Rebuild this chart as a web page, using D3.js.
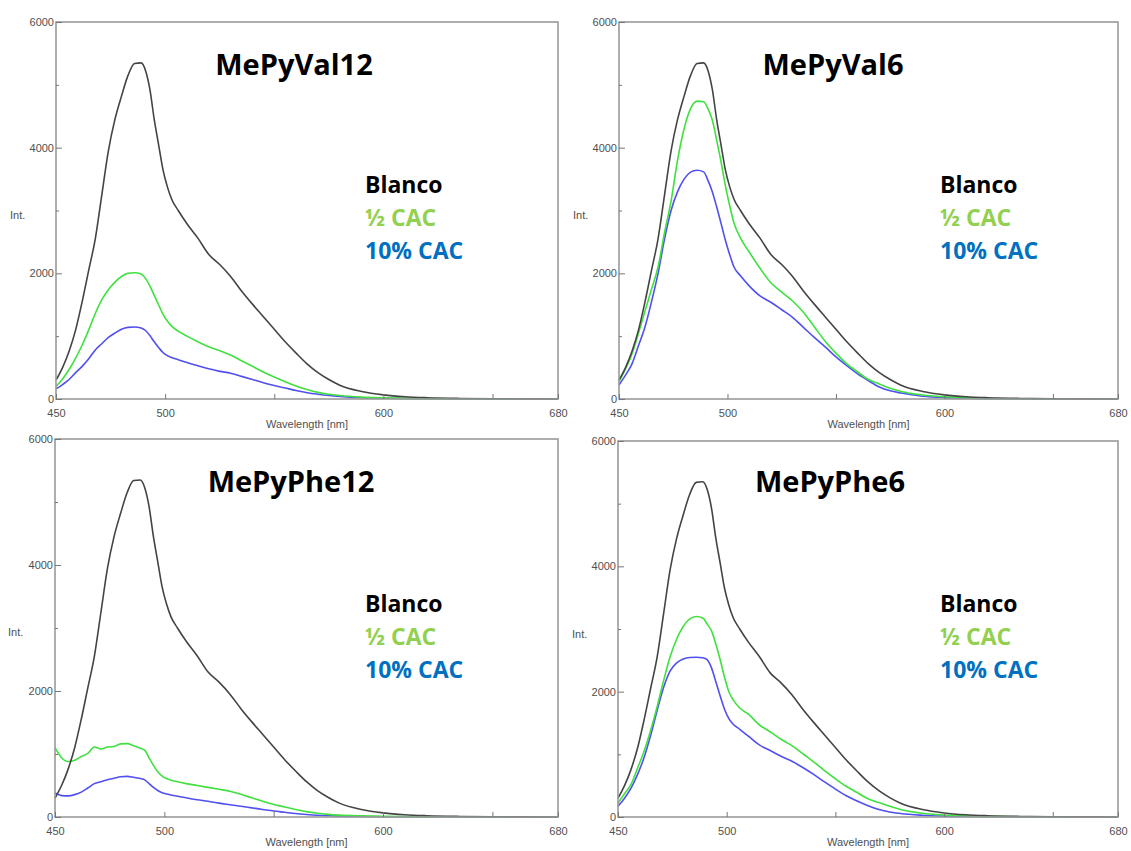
<!DOCTYPE html>
<html>
<head>
<meta charset="utf-8">
<script src="https://cdn.jsdelivr.net/npm/d3@7"></script>
<style>
  html, body { margin: 0; padding: 0; background: #fff; }
  svg { display: block; }
  .tick text { font-family: "Liberation Sans", Arial, sans-serif; font-size: 11px; fill: #505050; }
  .axis-label { font-family: "Liberation Sans", Arial, sans-serif; font-size: 11px; fill: #505050; }
  .title { font-family: "Open Sans", sans-serif; font-weight: bold; font-size: 29px; fill: #000; }
  .legend { font-family: "Open Sans", sans-serif; font-weight: bold; font-size: 23px; }
</style>
</head>
<body>
<svg id="chart" width="1131" height="851"></svg>
<script>
// emission spectra, four samples, each with blank / half CAC / 10% CAC

let wavelength = [450, 453, 456, 459, 462, 465, 468, 471, 474, 477, 480, 483, 486, 489, 491, 493,
  495, 497, 499, 501, 503, 506, 510, 515, 520, 525, 530, 535, 540, 545, 550, 555, 560, 565,
  570, 575, 580, 590, 600, 610, 620, 635, 650, 665, 680];

// same blank in all four panels
let blanco = [300, 500, 760, 1100, 1550, 2050, 2550, 3250, 3950, 4450, 4820, 5150, 5340, 5350, 5230, 4930,
  4450, 4050, 3650, 3380, 3180, 3000, 2790, 2560, 2300, 2140, 1950, 1720, 1510, 1310, 1110, 910, 730, 560,
  420, 310, 220, 120, 65, 35, 20, 9, 4, 2, 1];

let val12Half = [200, 320, 470, 650, 860, 1100, 1360, 1580, 1740, 1860, 1950, 2000, 2010, 1990, 1920, 1800,
  1650, 1500, 1350, 1240, 1160, 1080, 1000, 910, 830, 770, 700, 610, 520, 430, 350, 275, 205, 150,
  105, 75, 55, 30, 18, 10, 6, 3, 2, 1, 1];
let val12Ten = [160, 230, 310, 420, 520, 640, 780, 880, 980, 1050, 1110, 1140, 1145, 1130, 1090, 1010,
  910, 820, 740, 690, 660, 625, 580, 530, 480, 440, 410, 360, 310, 260, 215, 175, 135, 100,
  75, 55, 40, 20, 12, 7, 4, 2, 1, 1, 0];

let val6Half = [276, 480, 720, 1050, 1400, 1750, 2100, 2650, 3150, 3800, 4300, 4620, 4740, 4730, 4620, 4440,
  4120, 3780, 3400, 3080, 2800, 2560, 2340, 2080, 1850, 1700, 1560, 1380, 1150, 920, 730, 560, 430, 310,
  240, 170, 120, 64, 35, 18, 9, 4, 2, 1, 1];
let val6Ten = [223, 380, 560, 850, 1150, 1550, 2000, 2550, 3000, 3300, 3500, 3610, 3640, 3615, 3480, 3300,
  3060, 2800, 2530, 2300, 2100, 1960, 1800, 1640, 1540, 1420, 1300, 1140, 980, 830, 670, 530, 400, 290,
  190, 130, 95, 45, 22, 11, 6, 3, 1, 1, 0];

let phe12Half = [1100, 940, 880, 900, 960, 1010, 1110, 1080, 1110, 1120, 1160, 1165, 1130, 1090, 1060, 940,
  820, 720, 650, 610, 585, 560, 530, 500, 470, 440, 410, 360, 305, 250, 200, 160, 120, 85,
  60, 42, 30, 18, 11, 7, 4, 2, 1, 1, 0];
let phe12Ten = [380, 340, 335, 355, 395, 460, 530, 560, 590, 615, 640, 645, 630, 610, 590, 530,
  470, 420, 385, 365, 350, 330, 305, 275, 250, 220, 195, 170, 145, 120, 95, 75, 55, 40,
  28, 20, 14, 8, 5, 3, 2, 1, 0, 0, 0];

let phe6Half = [223, 370, 520, 780, 1050, 1380, 1760, 2180, 2560, 2840, 3040, 3160, 3200, 3175, 3080, 2970,
  2760, 2510, 2230, 2000, 1870, 1740, 1640, 1470, 1360, 1240, 1140, 1010, 880, 740, 610, 490, 390, 290,
  230, 170, 120, 60, 32, 16, 9, 4, 2, 1, 1];
let phe6Ten = [170, 300, 460, 680, 950, 1300, 1700, 2070, 2330, 2460, 2520, 2545, 2550, 2540, 2510, 2380,
  2160, 1930, 1720, 1570, 1480, 1400, 1290, 1150, 1060, 970, 890, 790, 680, 560, 445, 340, 255, 180,
  120, 80, 55, 28, 14, 7, 4, 2, 1, 0, 0];

let panelNames = ["MePyVal12", "MePyVal6", "MePyPhe12", "MePyPhe6"];
let halfSeries = [val12Half, val6Half, phe12Half, phe6Half];
let tenSeries = [val12Ten, val6Ten, phe12Ten, phe6Ten];

let legendLabels = ["Blanco", "\u00BD CAC", "10% CAC"];
let legendColors = ["#000000", "#92d050", "#0070c0"];
let lineColors = ["#444444", "#3fe03f", "#5050f0"];

let xTicks = [450, 500, 550, 600, 650, 680];
let xLabelled = [450, 500, 600, 680];
let yTicks = [0, 1000, 2000, 3000, 4000, 5000, 6000];
let yLabelled = [0, 2000, 4000, 6000];

// panel boxes (left, top, right, bottom) and where the title/legend go
let boxes = [
  {l: 56, t: 22, r: 558, b: 399, titleX: 294, titleY: 75, legX: 365, legY: 193, intX: 10, intY: 219},
  {l: 619, t: 22, r: 1118, b: 399, titleX: 833, titleY: 75, legX: 940, legY: 193, intX: 573, intY: 219},
  {l: 55, t: 439, r: 558, b: 817, titleX: 291, titleY: 492, legX: 365, legY: 612, intX: 8, intY: 636},
  {l: 618, t: 441, r: 1118, b: 817, titleX: 830, titleY: 492, legX: 940, legY: 612, intX: 572, intY: 638}
];

let svg = d3.select("#chart");

function drawPanel(i) {
  let b = boxes[i];
  let x = d3.scaleLinear().domain([450, 680]).range([b.l, b.r]);
  let y = d3.scaleLinear().domain([0, 6000]).range([b.b, b.t]);
  let g = svg.append("g").attr("class", "panel");

  let series = [blanco, halfSeries[i], tenSeries[i]];
  let line = d3.line()
    .x(function(d, k) { return x(wavelength[k]); })
    .y(function(d) { return y(d); })
    .curve(d3.curveMonotoneX);

  // draw 10% first so black sits on top
  [2, 1, 0].forEach(function(s) {
    g.append("path")
      .datum(series[s])
      .attr("d", line)
      .attr("fill", "none")
      .attr("stroke", lineColors[s])
      .attr("stroke-width", 1.6);
  });

  // frame
  g.append("rect")
    .attr("x", b.l).attr("y", b.t)
    .attr("width", b.r - b.l).attr("height", b.b - b.t)
    .attr("fill", "none")
    .attr("stroke", "#9a9a9a")
    .attr("stroke-width", 1.6);

  let xAxis = d3.axisBottom(x)
    .tickValues(xTicks)
    .tickSize(-5)
    .tickPadding(10)
    .tickFormat(function(d) { return xLabelled.indexOf(d) >= 0 ? d : ""; });
  let gx = g.append("g").attr("transform", "translate(0," + b.b + ")").call(xAxis);
  gx.select(".domain").remove();
  gx.selectAll(".tick line").attr("stroke", "#777");

  let yAxis = d3.axisLeft(y)
    .tickValues(yTicks)
    .tickSize(0)
    .tickPadding(2)
    .tickFormat(function(d) { return yLabelled.indexOf(d) >= 0 ? d : ""; });
  let gy = g.append("g").attr("transform", "translate(" + b.l + ",0)").call(yAxis);
  gy.select(".domain").remove();
  gy.selectAll(".tick").append("line")
    .attr("x1", 0)
    .attr("x2", function(d) { return yLabelled.indexOf(d) >= 0 ? 6 : 3; })
    .attr("stroke", "#777");

  g.append("text")
    .attr("class", "axis-label")
    .attr("x", (b.l + b.r) / 2)
    .attr("y", b.b + 29)
    .attr("text-anchor", "middle")
    .text("Wavelength [nm]");

  g.append("text")
    .attr("class", "axis-label")
    .attr("x", b.intX)
    .attr("y", b.intY)
    .text("Int.");

  g.append("text")
    .attr("class", "title")
    .attr("x", b.titleX)
    .attr("y", b.titleY)
    .attr("text-anchor", "middle")
    .text(panelNames[i]);

  legendLabels.forEach(function(lab, k) {
    g.append("text")
      .attr("class", "legend")
      .attr("x", b.legX)
      .attr("y", b.legY + k * 33)
      .attr("fill", legendColors[k])
      .text(lab);
  });
}

for (let i = 0; i < 4; i++) drawPanel(i);
</script>
</body>
</html>
